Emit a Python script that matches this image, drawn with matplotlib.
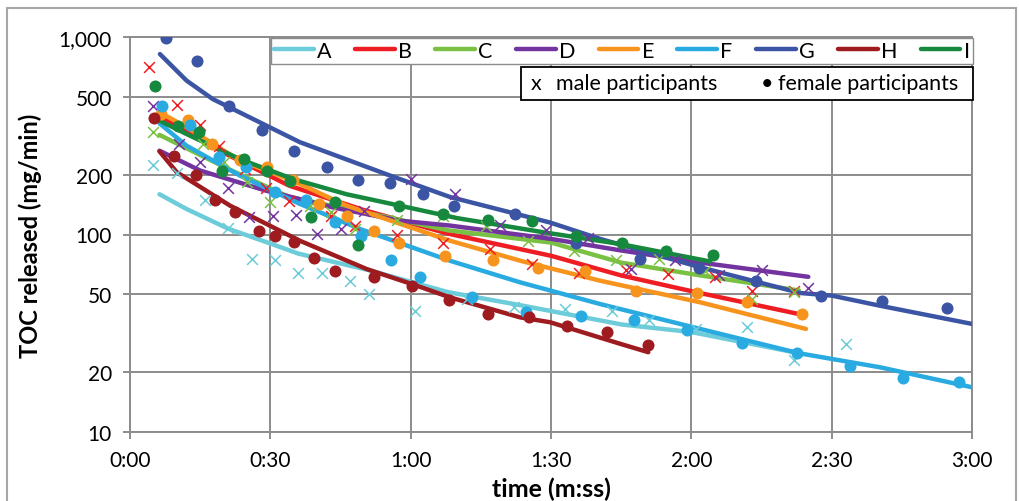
import matplotlib
matplotlib.use("Agg")
import matplotlib.pyplot as plt
from matplotlib.lines import Line2D
from matplotlib.patches import Rectangle
from matplotlib.ticker import FixedLocator, FuncFormatter, NullLocator

plt.rcParams['font.family'] = ['Lato', 'DejaVu Sans']

# ---------------- data (time in seconds, TOC in mg/min) ----------------
participants = ["A", "B", "C", "D", "E", "F", "G", "H", "I"]
sexes = ["m", "m", "m", "m", "f", "f", "f", "f", "f"]
colors = ["#6DCCDA", "#EE1D23", "#7AC143", "#7434A0", "#F7941D",
          "#29ABE2", "#3B55A4", "#9E1B20", "#17893F"]

# measured points
A_t = [5, 10, 16, 21, 26, 31, 36, 41, 47, 51, 61, 72, 82, 93, 103, 111, 121, 132, 142, 153]
A_v = [225, 204, 149, 108, 75, 74, 64, 64, 58, 50, 41, 47, 43, 42, 41, 37, 33, 34, 23, 28]
B_t = [4, 10, 15, 19, 24.5, 29, 34, 43, 48, 57, 67, 77, 86, 96, 106, 115, 125, 133, 142]
B_v = [710, 454, 359, 282, 215, 173, 148, 124, 110, 99, 91, 84, 71, 64, 66, 63, 61, 52, 52]
C_t = [5, 15.5, 20, 25, 30, 38.5, 43, 48, 57, 67, 76, 85, 95, 104, 113, 123, 133, 142]
C_v = [330, 288, 232, 185, 147, 140, 130, 107, 119, 124, 111, 93, 82, 74, 75, 65.5, 47, 51]
D_t = [5, 10.5, 15, 21, 25.5, 30.5, 35.5, 40, 45, 50, 60, 69.5, 79, 89, 98, 107, 116.5, 126, 135, 145]
D_v = [447, 288, 232, 172, 122, 124, 126, 101, 107, 131, 191, 160, 112, 105, 96, 67, 74.5, 62, 66, 53.5]
E_t = [6.7, 12.3, 17.6, 23.5, 29.2, 34.9, 40.5, 46.3, 52.2, 57.4, 67.4, 77.5, 87.3, 97.3, 108.2, 121.2, 131.9, 143.6]
E_v = [408, 381, 288, 239, 221, 189, 143, 124.5, 104, 91, 78, 74, 67.4, 65, 51.5, 50.3, 45.3, 39.5]
F_t = [6.8, 12.8, 19, 24.9, 31, 37.6, 43.8, 49.3, 55.9, 62.1, 73.1, 84.7, 96.4, 107.8, 119, 130.8, 142.5, 153.9, 165.3, 177.2]
F_v = [450, 360, 248, 219, 164, 150, 116, 98, 74, 61, 48.4, 40.3, 38.5, 37, 32.8, 28.1, 25, 21.6, 18.7, 17.8]
G_t = [7.6, 14.3, 21.2, 28.2, 35.1, 42.1, 48.7, 55.5, 62.6, 69.3, 82.3, 95.4, 109.0, 121.7, 133.8, 147.7, 160.7, 174.6]
G_v = [992, 758, 450, 340, 265, 221, 189, 182, 160, 140, 127, 91, 75, 67.4, 58.3, 49, 46, 42.3]
H_t = [5.2, 9.5, 14.1, 18.2, 22.4, 27.6, 31.1, 35.1, 39.4, 43.8, 52.2, 60.2, 68.2, 76.5, 85.2, 93.5, 101.9, 110.7]
H_v = [388, 249, 200, 150, 130.5, 104, 98.6, 91.3, 76, 65.6, 61.1, 55, 46.5, 39.5, 38.3, 34.5, 31.9, 27.6]
I_t = [5.3, 10.2, 14.8, 19.7, 24.4, 29.2, 34.2, 38.8, 43.8, 48.7, 57.6, 67, 76.6, 85.9, 95.4, 105.1, 114.6, 124.6]
I_v = [568, 356, 332, 211, 241, 211, 187, 123, 146, 88.8, 140, 127, 118.5, 117.5, 98.6, 90.2, 82.8, 78.8]

# fitted curves
A_ft = [6.3, 12, 21, 30, 36, 51, 68, 83, 105, 120, 143]
A_fv = [160, 135, 107, 90, 80, 66, 51, 44, 35, 32, 25]
B_ft = [6.3, 12, 20, 34, 50, 68, 90, 105, 121, 143]
B_fv = [400, 335, 260, 177, 133, 101, 78, 62, 51, 39.5]
C_ft = [6.3, 21, 34, 56, 68, 90, 105, 122, 143]
C_fv = [320, 215, 155, 121, 105, 91, 72, 62, 52]
D_ft = [6.3, 15, 29, 43.5, 57.7, 68.4, 90, 105, 122, 145]
D_fv = [266, 211, 167, 137, 117.5, 111, 95, 83, 72, 61]
E_ft = [6.3, 12.1, 23.5, 34.9, 46.3, 68.4, 84, 100.5, 121.9, 144.5]
E_fv = [417, 350, 237, 187, 140, 93, 73, 58.3, 45.3, 33.2]
F_ft = [6.3, 12.1, 23.5, 36.3, 49.2, 68.4, 83.4, 100.5, 121.9, 143, 160.4, 180]
F_fv = [366, 282, 199, 143, 106.6, 73.6, 57.2, 44.4, 33.2, 25, 21.2, 16.8]
G_ft = [6.4, 12.1, 17.7, 36.3, 55.6, 68.4, 89.8, 100.5, 121.9, 143.3, 150, 160.4, 180]
G_fv = [822, 603, 486, 294, 199, 155, 115, 95, 68.2, 50.5, 49, 43.5, 35.2]
H_ft = [6.3, 10, 21.4, 36.3, 50.6, 61.3, 68.4, 83.4, 89.8, 104.8, 110.8]
H_fv = [264, 207, 140, 93, 66.8, 55, 48, 38, 35.9, 27.9, 25.3]
I_ft = [6.3, 12.1, 23.5, 34.9, 46.3, 57.7, 70, 88, 104.8, 124]
I_fv = [378, 323, 241, 191, 160, 140, 121, 103, 89.5, 73]

points = [(A_t, A_v), (B_t, B_v), (C_t, C_v), (D_t, D_v), (E_t, E_v),
          (F_t, F_v), (G_t, G_v), (H_t, H_v), (I_t, I_v)]
fits = [(A_ft, A_fv), (B_ft, B_fv), (C_ft, C_fv), (D_ft, D_fv), (E_ft, E_fv),
        (F_ft, F_fv), (G_ft, G_fv), (H_ft, H_fv), (I_ft, I_fv)]

x_ticks = [0, 30, 60, 90, 120, 150, 180]
y_ticks = [10, 20, 50, 100, 200, 500, 1000]
y_tick_labels = ["10", "20", "50", "100", "200", "500", "1,000"]

# ---------------- figure ----------------
W, H = 1019, 502
fig = plt.figure(figsize=(W / 100, H / 100), dpi=100)
L, R, T, B = 130, 972, 38.3, 432.7
ax = fig.add_axes([L / W, 1 - B / H, (R - L) / W, (B - T) / H])

grid_c = "#8c8c8c"
ax.set_yscale("log")
ax.set_xlim(0, 180)
ax.set_ylim(10, 1000)
ax.xaxis.set_major_locator(FixedLocator(x_ticks))
ax.xaxis.set_major_formatter(FuncFormatter(lambda s, p: f"{int(s)//60}:{int(s)%60:02d}"))
ax.yaxis.set_major_locator(FixedLocator(y_ticks))
ax.yaxis.set_major_formatter(FuncFormatter(lambda v, p: y_tick_labels[y_ticks.index(int(round(v)))] if int(round(v)) in y_ticks else ""))
ax.yaxis.set_minor_locator(NullLocator())
ax.grid(True, which="major", color=grid_c, lw=1.4)
ax.set_axisbelow(True)
for sp in ax.spines.values():
    sp.set_color(grid_c)
    sp.set_linewidth(1.4)
ax.tick_params(axis="both", which="major", direction="out", length=5, width=1.4,
               color=grid_c, labelsize=15, labelcolor="black", pad=8)

for (ft, fv), col in zip(fits, colors):
    ax.plot(ft, fv, color=col, lw=3.2, solid_capstyle="round", zorder=3)

for (pt, pv), col, sx in zip(points, colors, sexes):
    if sx == "m":
        ax.scatter(pt, pv, marker="x", s=60, color=col, linewidths=1.1, zorder=4)
    else:
        ax.scatter(pt, pv, marker="o", s=75, color=col, linewidths=0, zorder=4)

ax.set_ylabel("TOC released (mg/min)", fontsize=17, fontweight="bold")
ax.yaxis.set_label_coords((42 - L) / (R - L), 0.5)
ax.set_xlabel("time (m:ss)", fontsize=18, fontweight="bold")
ax.xaxis.label.set_va("center")
ax.xaxis.set_label_coords(0.5, (B - 489) / (B - T))

# legend 1 (series)
handles = [Line2D([0], [0], color=c, lw=3.2, solid_capstyle="round") for c in colors]
x0, y0, x1, y1 = 271, 38.5, 973, 66
leg = ax.legend(handles, participants, ncol=9, mode="expand", loc="upper left",
                bbox_to_anchor=(x0 / W, 1 - y0 / H, (x1 - x0) / W, 0),
                bbox_transform=fig.transFigure, fontsize=15.5, frameon=True,
                fancybox=False, edgecolor="#8c8c8c", framealpha=1.0,
                handlelength=1.85, handletextpad=0.15, borderpad=0.15,
                borderaxespad=0, columnspacing=0.5)
leg.get_frame().set_linewidth(1.0)

# legend 2 (sex)
fig.add_artist(Rectangle((521 / W, 1 - 101 / H), (973 - 521) / W, 33 / H,
                         transform=fig.transFigure, facecolor="white",
                         edgecolor="black", lw=1.3, zorder=5))
fig.text(531 / W, 1 - 84.5 / H, "x", fontsize=15.5, va="center", ha="left", zorder=6)
fig.text(556 / W, 1 - 84.5 / H, "male participants", fontsize=15.5, va="center", ha="left", zorder=6)
fig.text(761 / W, 1 - 84.5 / H, "\u2022", fontsize=15.5, va="center", ha="left", zorder=6)
fig.text(778 / W, 1 - 84.5 / H, "female participants", fontsize=15.5, va="center", ha="left", zorder=6)

# outer chart border
fig.add_artist(Rectangle((7 / W, -0.05), (1016 - 7) / W, 1 - 9 / H + 0.05,
                         transform=fig.transFigure, fill=False,
                         edgecolor="#a6a6a6", lw=1.5, zorder=7))

fig.savefig("out.png", dpi=100)
